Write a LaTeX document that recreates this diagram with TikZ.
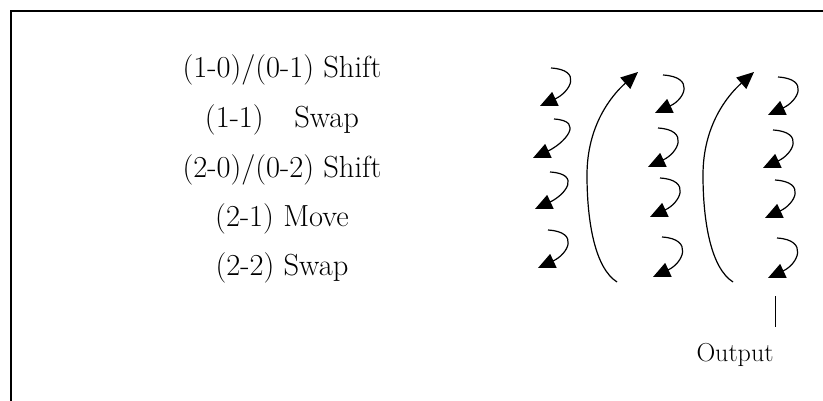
\documentclass[tikz,border=0pt]{standalone}
\usepackage{tikz}
\usetikzlibrary{arrows.meta}
\tikzset{>={Triangle[length=17pt,width=15pt]}}
\tikzset{
  lbl/.style={font=\fontsize{30.5}{36}\selectfont},
  smallarr/.style={->,line width=1.2pt},
  bigarr/.style={->,line width=1.2pt}
}

\begin{document}
\begin{tikzpicture}[x=1pt,y=-1pt]

\useasboundingbox (0,0) rectangle (823,401); %% page size

%% frame, top and left only
\draw[line width=2pt] (11,401) -- (11,11) -- (823,11);

\node[lbl] (shiftA) at (282,70)  {(1-0)/(0-1) Shift};
\node[lbl] (swapA)  at (282,120) {(1-1)\quad Swap};
\node[lbl] (shiftB) at (282,170) {(2-0)/(0-2) Shift};
\node[lbl] (move)   at (282,219) {(2-1) Move};
\node[lbl] (swapB)  at (282,268) {(2-2) Swap};

%% small hooks, three columns
\foreach \sx/\sy/\tx/\ty in {551/68/540/106, 554/119/533/158,
    550/172/535/209, 548/230/538/268,
    663/75/655/113, 658/128/648/167, 660/178/650/217, 662/237/653/277,
    778/77/768/115, 773/130/763/168, 775/180/765/218, 777/238/768/278}
  \draw[smallarr] (\sx,\sy) .. controls +(32,2) and +(30,-14) .. (\tx,\ty);

%% long arcs
\foreach \dx in {0,116}
  \draw[bigarr] (617+\dx,282) .. controls (595+\dx,268) and (587+\dx,222)
    .. (587+\dx,175) .. controls (587+\dx,125) and (612+\dx,95) .. (638+\dx,72);

\coordinate (outtop) at (775,296);
\coordinate (outbot) at (775,327);
\draw[line width=1pt] (outtop) -- (outbot);
\node[font=\fontsize{26}{30}\selectfont] (output) at (735,355) {Output};

\end{tikzpicture}
\end{document}
